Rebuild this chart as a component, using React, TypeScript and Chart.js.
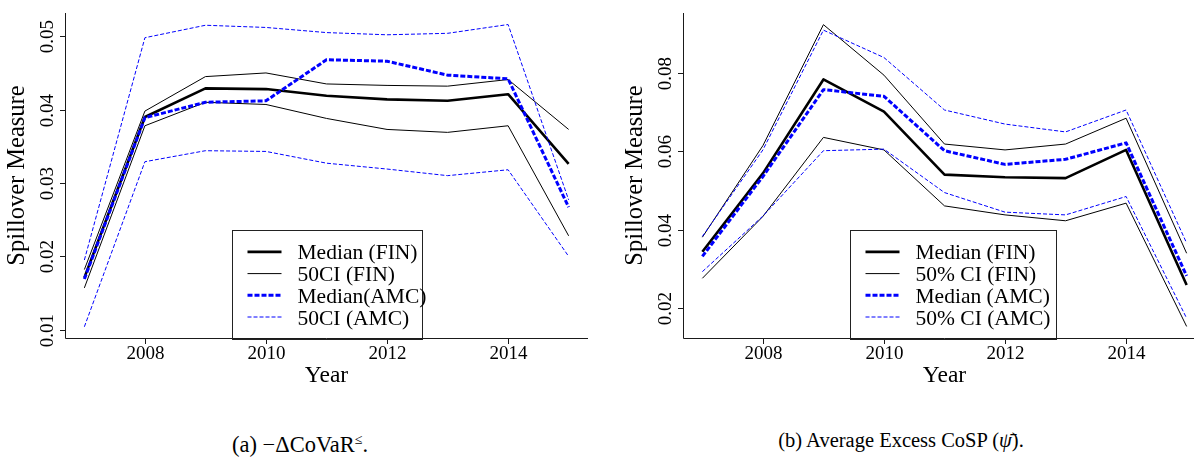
import React, { useEffect, useRef } from "react";
import { Chart, registerables } from "chart.js";

Chart.register(...registerables);

// ---------- data ----------
const years = [2007, 2008, 2009, 2010, 2011, 2012, 2013, 2014, 2015];
const xTickYears = [2008, 2010, 2012, 2014];

// panel (a)  -ΔCoVaR
const aMedianFin = [0.0171, 0.039, 0.0429, 0.0428, 0.0419, 0.0414, 0.0412, 0.0421, 0.0326];
const aUpperFin = [0.0182, 0.0398, 0.0445, 0.045, 0.0435, 0.0433, 0.0432, 0.0441, 0.0373];
const aLowerFin = [0.0157, 0.0378, 0.041, 0.0407, 0.0388, 0.0373, 0.0369, 0.0378, 0.0228];
const aMedianAmc = [0.0169, 0.0389, 0.041, 0.0412, 0.0468, 0.0466, 0.0447, 0.0442, 0.0267];
const aUpperAmc = [0.0195, 0.0498, 0.0515, 0.0512, 0.0505, 0.0502, 0.0504, 0.0516, 0.0277];
const aLowerAmc = [0.0104, 0.0329, 0.0344, 0.0343, 0.0327, 0.0319, 0.031, 0.0318, 0.02];
const aYTicks = [0.01, 0.02, 0.03, 0.04, 0.05];
const aLegendLabels = ["Median (FIN)", "50CI (FIN)", "Median(AMC)", "50CI (AMC)"];

// panel (b)  Average Excess CoSP
const bMedianFin = [0.0344, 0.0544, 0.0784, 0.0702, 0.0541, 0.0534, 0.0532, 0.0604, 0.0259];
const bUpperFin = [0.0381, 0.0615, 0.0924, 0.0795, 0.0619, 0.0604, 0.0619, 0.0685, 0.034];
const bLowerFin = [0.0276, 0.0434, 0.0636, 0.0604, 0.0461, 0.0438, 0.0423, 0.0468, 0.0153];
const bMedianAmc = [0.0332, 0.0536, 0.0758, 0.0741, 0.0602, 0.0567, 0.058, 0.0622, 0.0282];
const bUpperAmc = [0.0383, 0.0604, 0.091, 0.084, 0.0706, 0.067, 0.065, 0.0706, 0.0366];
const bLowerAmc = [0.0293, 0.0435, 0.0602, 0.0606, 0.0495, 0.0445, 0.0438, 0.0485, 0.0174];
const bYTicks = [0.02, 0.04, 0.06, 0.08];
const bLegendLabels = ["Median (FIN)", "50% CI (FIN)", "Median (AMC)", "50% CI (AMC)"];

const xTitle = "Year";
const yTitle = "Spillover Measure";

// ---------- styles ----------
const SERIF = '"Liberation Serif", "Times New Roman", serif';
const BLUE = "#0000ff";

type Style = { color: string; width: number; dash: number[] };
const medianFinStyle: Style = { color: "#000000", width: 2.6, dash: [] };
const ciFinStyle: Style = { color: "#000000", width: 1, dash: [] };
const medianAmcStyle: Style = { color: BLUE, width: 3, dash: [5, 2] };
const ciAmcStyle: Style = { color: BLUE, width: 1, dash: [4, 2] };

type PanelProps = {
  left: number;
  width: number;
  height: number;
  padding: { left: number; right: number; top: number; bottom: number };
  yMin: number;
  yMax: number;
  yTicks: number[];
  medianFin: number[];
  upperFin: number[];
  lowerFin: number[];
  medianAmc: number[];
  upperAmc: number[];
  lowerAmc: number[];
  legendLabels: string[];
  legendWidth: number;
};

function makeDataset(label: string, values: number[], st: Style) {
  return {
    label,
    data: years.map((yr, i) => ({ x: yr, y: values[i] })),
    borderColor: st.color,
    backgroundColor: st.color,
    borderWidth: st.width,
    borderDash: st.dash,
    borderCapStyle: "butt" as const,
    borderJoinStyle: "round" as const,
    pointRadius: 0,
    tension: 0,
    fill: false,
  };
}

function Panel(p: PanelProps) {
  const ref = useRef<HTMLCanvasElement | null>(null);

  useEffect(() => {
    const canvas = ref.current;
    if (!canvas) return;

    const legendEntries = [
      { label: p.legendLabels[0], st: medianFinStyle },
      { label: p.legendLabels[1], st: ciFinStyle },
      { label: p.legendLabels[2], st: medianAmcStyle },
      { label: p.legendLabels[3], st: ciAmcStyle },
    ];

    const axesPlugin = {
      id: "rStyleAxes",
      afterDraw(chart: any) {
        const ctx: CanvasRenderingContext2D = chart.ctx;
        const a = chart.chartArea;
        const xs = chart.scales.x;
        const ys = chart.scales.y;
        ctx.save();
        ctx.setLineDash([]);
        ctx.strokeStyle = "#1a1a1a";
        ctx.lineWidth = 1;
        // L-shaped frame
        ctx.beginPath();
        ctx.moveTo(a.left + 0.5, a.top);
        ctx.lineTo(a.left + 0.5, a.bottom + 0.5);
        ctx.lineTo(a.right, a.bottom + 0.5);
        ctx.stroke();

        ctx.fillStyle = "#000";
        // x ticks
        ctx.font = `19px ${SERIF}`;
        ctx.textAlign = "center";
        ctx.textBaseline = "alphabetic";
        for (const t of xTickYears) {
          const px = Math.round(xs.getPixelForValue(t)) + 0.5;
          ctx.beginPath();
          ctx.moveTo(px, a.bottom);
          ctx.lineTo(px, a.bottom + 6);
          ctx.stroke();
          ctx.fillText(String(t), px, a.bottom + 21);
        }
        // y ticks
        for (const t of p.yTicks) {
          const py = Math.round(ys.getPixelForValue(t)) + 0.5;
          ctx.beginPath();
          ctx.moveTo(a.left - 5, py);
          ctx.lineTo(a.left, py);
          ctx.stroke();
          ctx.save();
          ctx.translate(a.left - 12.5, py);
          ctx.rotate(-Math.PI / 2);
          ctx.fillText(t.toFixed(2), 0, 0);
          ctx.restore();
        }
        // axis titles
        ctx.font = `23.5px ${SERIF}`;
        ctx.fillText(xTitle, (a.left + a.right) / 2, a.bottom + 44);
        ctx.save();
        ctx.font = `24.5px ${SERIF}`;
        ctx.translate(a.left - 41, (a.top + a.bottom) / 2);
        ctx.rotate(-Math.PI / 2);
        ctx.fillText(yTitle, 0, 0);
        ctx.restore();

        // legend
        const bx = a.left + 166.5;
        const by = a.top + 216.5;
        ctx.strokeStyle = "#222";
        ctx.lineWidth = 1;
        ctx.strokeRect(Math.round(bx) + 0.5, Math.round(by) + 0.5, Math.round(p.legendWidth), Math.round(a.bottom - by));
        ctx.font = `21.5px ${SERIF}`;
        ctx.textAlign = "left";
        legendEntries.forEach((e, i) => {
          const ry = by + 22.4 + i * 21.7;
          ctx.beginPath();
          ctx.strokeStyle = e.st.color;
          ctx.lineWidth = e.st.width;
          ctx.setLineDash(e.st.dash);
          ctx.lineCap = "butt";
          ctx.moveTo(bx + 16, ry);
          ctx.lineTo(bx + 50, ry);
          ctx.stroke();
          ctx.setLineDash([]);
          ctx.fillText(e.label, bx + 66, ry + 7.5);
        });
        ctx.restore();
      },
    };

    const chart = new Chart(canvas, {
      type: "line",
      data: {
        datasets: [
          makeDataset(p.legendLabels[2], p.medianAmc, medianAmcStyle),
          makeDataset(p.legendLabels[3] + " upper", p.upperAmc, ciAmcStyle),
          makeDataset(p.legendLabels[3] + " lower", p.lowerAmc, ciAmcStyle),
          makeDataset(p.legendLabels[0], p.medianFin, medianFinStyle),
          makeDataset(p.legendLabels[1] + " upper", p.upperFin, ciFinStyle),
          makeDataset(p.legendLabels[1] + " lower", p.lowerFin, ciFinStyle),
        ],
      },
      options: {
        responsive: false,
        animation: false,
        devicePixelRatio: 1,
        layout: { padding: p.padding },
        scales: {
          x: { type: "linear", min: 2007 - 0.32, max: 2015 + 0.32, display: false },
          y: { type: "linear", min: p.yMin, max: p.yMax, display: false },
        },
        plugins: {
          legend: { display: false },
          tooltip: { enabled: false },
        },
        events: [],
      },
      plugins: [axesPlugin],
    });
    return () => chart.destroy();
  }, []);

  return (
    <canvas
      ref={ref}
      width={p.width}
      height={p.height}
      style={{ position: "absolute", left: p.left, top: 0, width: p.width, height: p.height }}
    />
  );
}

export default function App() {
  return (
    <div
      style={{
        position: "fixed",
        left: 0,
        top: 0,
        width: 1194,
        height: 461,
        overflow: "hidden",
        background: "#fff",
        fontFamily: SERIF,
      }}
    >
      <Panel
        left={0}
        width={597}
        height={400}
        padding={{ left: 65, right: 9, top: 13, bottom: 62 }}
        yMin={0.00887}
        yMax={0.05317}
        yTicks={aYTicks}
        medianFin={aMedianFin}
        upperFin={aUpperFin}
        lowerFin={aLowerFin}
        medianAmc={aMedianAmc}
        upperAmc={aUpperAmc}
        lowerAmc={aLowerAmc}
        legendLabels={aLegendLabels}
        legendWidth={190}
      />
      <Panel
        left={597}
        width={620}
        height={400}
        padding={{ left: 86, right: 11, top: 13, bottom: 62 }}
        yMin={0.01235}
        yMax={0.09538}
        yTicks={bYTicks}
        medianFin={bMedianFin}
        upperFin={bUpperFin}
        lowerFin={bLowerFin}
        medianAmc={bMedianAmc}
        upperAmc={bUpperAmc}
        lowerAmc={bLowerAmc}
        legendLabels={bLegendLabels}
        legendWidth={206}
      />
      <div
        style={{
          position: "absolute",
          left: 100,
          width: 400,
          top: 427,
          textAlign: "center",
          fontSize: 22.5,
          lineHeight: "26px",
          color: "#000",
        }}
      >
        (a) −ΔCoVaR<sup style={{ fontSize: 14, verticalAlign: "8px" }}>≤</sup>.
      </div>
      <div
        style={{
          position: "absolute",
          left: 701,
          width: 400,
          top: 427,
          textAlign: "center",
          fontSize: 20.5,
          lineHeight: "26px",
          color: "#000",
        }}
      >
        (b) Average Excess CoSP (<i>ψ̄</i>).
      </div>
    </div>
  );
}
